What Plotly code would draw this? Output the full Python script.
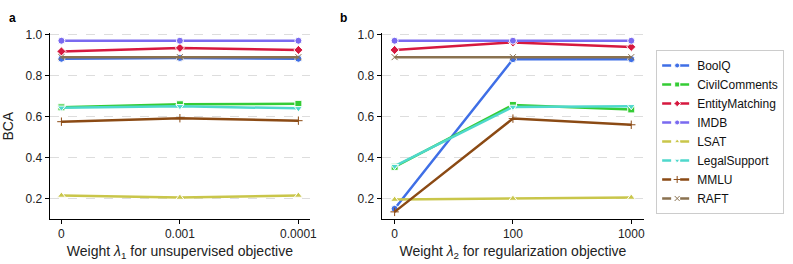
import plotly.graph_objects as go

datasets = ["BoolQ", "CivilComments", "EntityMatching", "IMDB", "LSAT", "LegalSupport", "MMLU", "RAFT"]
colors = ["#3f6fe6", "#35cc35", "#d6183f", "#7a6af0", "#c9c64a", "#4fd8cc", "#8b4a14", "#8a7250"]
symbols = ["circle", "square", "diamond", "circle", "triangle-up", "triangle-down", "cross-thin", "x-thin"]

ticks_a = ["0", "0.001", "0.0001"]
ticks_b = ["0", "100", "1000"]

vals_a = {
    "BoolQ": [0.882, 0.886, 0.882],
    "CivilComments": [0.645, 0.660, 0.662],
    "EntityMatching": [0.918, 0.935, 0.925],
    "IMDB": [0.970, 0.970, 0.970],
    "LSAT": [0.215, 0.205, 0.215],
    "LegalSupport": [0.643, 0.650, 0.640],
    "MMLU": [0.575, 0.592, 0.580],
    "RAFT": [0.890, 0.890, 0.890],
}
vals_b = {
    "BoolQ": [0.150, 0.880, 0.880],
    "CivilComments": [0.355, 0.657, 0.635],
    "EntityMatching": [0.925, 0.962, 0.940],
    "IMDB": [0.970, 0.970, 0.970],
    "LSAT": [0.195, 0.200, 0.205],
    "LegalSupport": [0.358, 0.647, 0.650],
    "MMLU": [0.135, 0.590, 0.560],
    "RAFT": [0.890, 0.890, 0.890],
}

fig = go.Figure()

def add_panel(vals, xa, ya):
    for name, col, sym in zip(datasets, colors, symbols):
        thin = sym.endswith("thin")
        fig.add_trace(go.Scatter(
            x=[0, 1, 2], y=vals[name], mode="lines+markers", name=name,
            showlegend=False, xaxis=xa, yaxis=ya,
            line=dict(color=col, width=2.5),
            marker=dict(symbol=sym, size=7 if not thin else 6, color=col,
                        line=dict(color=col if thin else "white", width=1)),
        ))

add_panel(vals_a, "x", "y")
add_panel(vals_b, "x2", "y2")

# legend entries (dashed, as in reference)
for name, col, sym in zip(datasets, colors, symbols):
    thin = sym.endswith("thin")
    fig.add_trace(go.Scatter(
        x=[None], y=[None], mode="lines+markers", name=name,
        line=dict(color=col, width=2.5, dash="dash"),
        marker=dict(symbol=sym, size=5, color=col,
                    line=dict(color=col if thin else "white", width=1)),
    ))

font = "Liberation Sans, Arial, Helvetica, sans-serif"
axis_common = dict(showline=True, linecolor="black", linewidth=1, ticks="outside",
                   ticklen=4, tickcolor="black", zeroline=False, mirror=False,
                   tickfont=dict(size=12, color="#222"))

yax = dict(axis_common, range=[0.1, 1.006], tickvals=[0.2, 0.4, 0.6, 0.8, 1.0],
           ticktext=["0.2", "0.4", "0.6", "0.8", "1.0"], showgrid=True,
           gridcolor="#dddddd", griddash="dash", gridwidth=1)

fig.update_layout(
    width=793, height=264,
    margin=dict(l=0, r=0, t=0, b=0),
    paper_bgcolor="white", plot_bgcolor="white",
    font=dict(family=font, color="#222"),
    xaxis=dict(axis_common, domain=[50/793, 313/793], range=[-0.1, 2.1],
               tickvals=[0, 1, 2], ticktext=ticks_a, showgrid=False,
               title=dict(text="Weight <i>λ</i><sub>1</sub> for unsupervised objective",
                          font=dict(size=14), standoff=5)),
    yaxis=dict(yax, domain=[46/264, 236/264],
               title=dict(text="BCA", font=dict(size=14), standoff=8)),
    xaxis2=dict(axis_common, domain=[385/793, 650/793], range=[-0.11, 2.11],
                tickvals=[0, 1, 2], ticktext=ticks_b, showgrid=False, anchor="y2",
                title=dict(text="Weight <i>λ</i><sub>2</sub> for regularization objective",
                           font=dict(size=14), standoff=5)),
    yaxis2=dict(yax, domain=[46/264, 236/264], anchor="x2"),
    legend=dict(x=662/793, y=1-45/264, xanchor="left", yanchor="top",
                bordercolor="#cccccc", borderwidth=1, bgcolor="white",
                font=dict(size=12, color="#111"), itemwidth=30, tracegroupgap=0),
    annotations=[
        dict(text="<b>a</b>", x=13/793, y=1-12/264, xref="paper", yref="paper",
             showarrow=False, xanchor="center", yanchor="middle", font=dict(size=12, color="black")),
        dict(text="<b>b</b>", x=347/793, y=1-12/264, xref="paper", yref="paper",
             showarrow=False, xanchor="center", yanchor="middle", font=dict(size=12, color="black")),
    ],
)

fig.write_html("out.html", config={"displayModeBar": False},
               post_script="document.body.style.margin='0';document.body.style.overflow='hidden';")
